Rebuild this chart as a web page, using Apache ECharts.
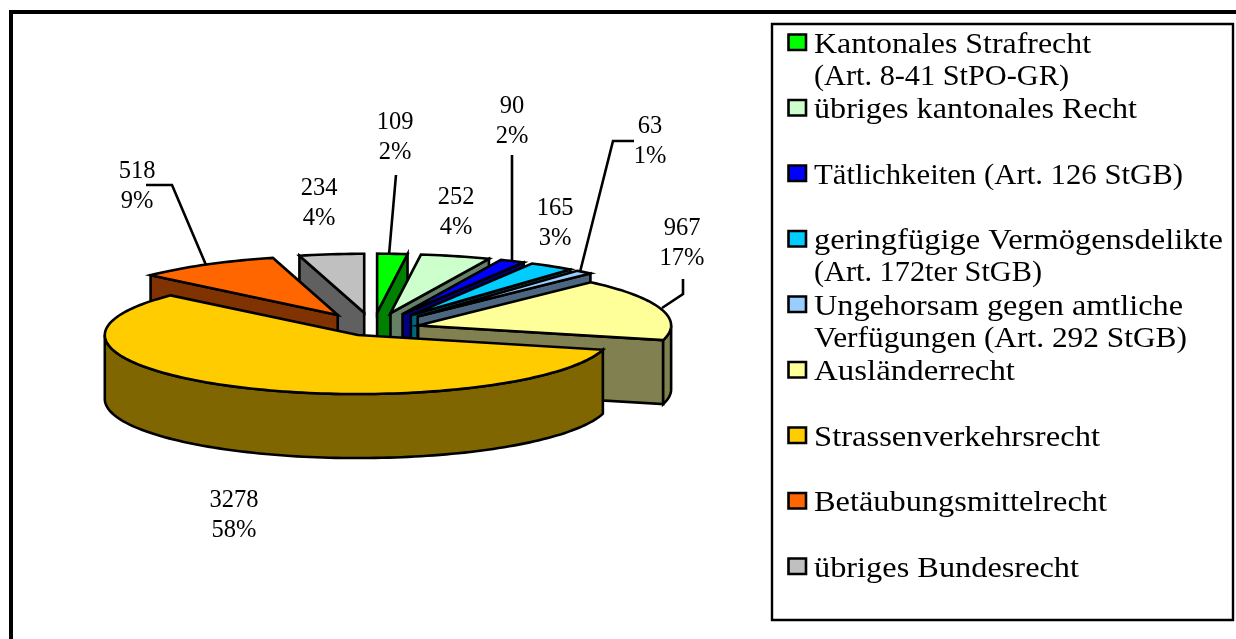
<!DOCTYPE html>
<html lang="de">
<head>
    <meta charset="UTF-8">
    <title>Pie</title>
    <script src="https://cdn.jsdelivr.net/npm/echarts@6/dist/echarts.min.js"></script>
    <style>
        html,body{margin:0;padding:0;background:#fff}
        #chart{width:1236px;height:639px}
    </style>
</head>
<body>
<div id="chart"></div>
<script type="text/javascript">
    // data, clockwise from 12 o'clock
    var categories=['Kantonales Strafrecht','übriges kantonales Recht','Tätlichkeiten','geringfügige Vermögensdelikte','Ungehorsam','Ausländerrecht','Strassenverkehrsrecht','Betäubungsmittelrecht','übriges Bundesrecht'];
    var values=[109,252,90,165,63,967,3278,518,234];
    var legendLines=[
        ['Kantonales Strafrecht','(Art. 8-41 StPO-GR)'],
        ['übriges kantonales Recht'],
        ['Tätlichkeiten (Art. 126 StGB)'],
        ['geringfügige Vermögensdelikte','(Art. 172ter StGB)'],
        ['Ungehorsam gegen amtliche','Verfügungen (Art. 292 StGB)'],
        ['Ausländerrecht'],
        ['Strassenverkehrsrecht'],
        ['Betäubungsmittelrecht'],
        ['übriges Bundesrecht']
    ];
    var topColors=['#00FF00','#CCFFCC','#0000FF','#00CCFF','#99CCFF','#FFFF99','#FFCC00','#FF6600','#C0C0C0'];
    var sideColors=['#008000','#668066','#000080','#006680','#4D6680','#808050','#806600','#803300','#606060'];

    // pie layout
    var pie={cx:373,cy:328.5,rx:253,ry:59,depth:64};
    var explode=[68,68,68,68,68,47,32,68,68];
    var drawOrder=[8,7,0,1,2,3,4,5,6];
    var labelPos=[[395,123],[456,198],[512,107],[555,209],[650,127],[682,229],[234,501],[137,172],[319,189]];
    var leaders=[
        [[396,175],[389,255]],
        null,
        [[512,155],[512,262]],
        null,
        [[634,141],[613,141],[580,272]],
        [[683,279],[683,294],[662,308]],
        null,
        [[146,185],[172,185],[206,265]],
        null
    ];
    // legend line widths in px, the serif here is narrower than the original one
    var legendWidths=[[277,255],[323],[369],[409,228],[369,373],[201],[286],[293],[265]];

    var fontName='"Liberation Serif",serif';
    var legendFont='28.5px '+fontName;
    var total=values.reduce(function(a,b){return a+b},0);
    var startDeg=[];
    values.reduce(function(sum,v,i){startDeg[i]=sum/total*360;return sum+v},0);

    function pt(a,ox,oy,r){
        var t=a*Math.PI/180;
        return [ox+pie.rx*r*Math.sin(t),oy-pie.ry*r*Math.cos(t)];
    }
    function arc(a0,a1,ox,oy){
        var pts=[],n=Math.max(2,Math.ceil((a1-a0)/1.5));
        for(var k=0;k<=n;k++){
            pts.push(pt(a0+(a1-a0)*k/n,ox,oy,1));
        }
        return pts;
    }
    function drop(pts){
        return pts.map(function(p){return [p[0],p[1]+pie.depth]}).reverse();
    }
    function face(pts,fill){
        return {
            type:'polygon',
            shape:{points:pts},
            style:{fill:fill,stroke:'#000',lineWidth:2.6,lineJoin:'miter'}
        };
    }

    function renderSlice(params,api){
        var i=api.value(1);
        var a0=startDeg[i];
        var a1=a0+api.value(0)/total*360;
        var mid=(a0+a1)/2;
        var t=mid*Math.PI/180;
        var ox=pie.cx+explode[i]*Math.sin(t);
        var oy=pie.cy-explode[i]*pie.ry/pie.rx*Math.cos(t);
        var apex=[ox,oy];
        var kids=[];
        // radial walls, only the ones facing the viewer
        if(a0>180){
            var c0=[apex,pt(a0,ox,oy,1)];
            kids.push(face(c0.concat(drop(c0)),sideColors[i]));
        }
        if(a1<180){
            var c1=[apex,pt(a1,ox,oy,1)];
            kids.push(face(c1.concat(drop(c1)),sideColors[i]));
        }
        // outer rim, front half
        var r0=Math.max(a0,90),r1=Math.min(a1,270);
        if(r1>r0){
            var rim=arc(r0,r1,ox,oy);
            kids.push(face(rim.concat(drop(rim)),sideColors[i]));
        }
        kids.push(face([apex].concat(arc(a0,a1,ox,oy)),topColors[i]));
        return {type:'group',children:kids};
    }

    function renderLabel(params,api){
        var i=api.value(1);
        var v=api.value(0);
        var p=labelPos[i];
        var kids=[{
            type:'text',
            style:{
                text:v+'\n'+Math.round(v/total*100)+'%',
                x:p[0],y:p[1]-15,
                align:'center',verticalAlign:'top',
                font:'24.5px '+fontName,
                lineHeight:30,
                fill:'#000'
            }
        }];
        if(leaders[i]){
            kids.push({
                type:'polyline',
                shape:{points:leaders[i]},
                style:{fill:'none',stroke:'#000',lineWidth:2.6}
            });
        }
        return {type:'group',children:kids};
    }

    // frame and legend
    var graphics=[
        {type:'polyline',shape:{points:[[11,639],[11,12],[1236,12]]},style:{fill:'none',stroke:'#000',lineWidth:4}},
        {type:'rect',shape:{x:772,y:24,width:461,height:596},style:{fill:'#fff',stroke:'#000',lineWidth:2.4}}
    ];
    var measure=document.createElement('canvas').getContext('2d');
    measure.font=legendFont;
    legendLines.forEach(function(lines,i){
        var y=34.5+i*65.5;
        graphics.push({
            type:'rect',
            shape:{x:788.5,y:y,width:17.5,height:15.5},
            style:{fill:topColors[i],stroke:'#000',lineWidth:2.6}
        });
        lines.forEach(function(line,j){
            graphics.push({
                type:'text',
                x:814,y:y-3.5+j*32,
                scaleX:legendWidths[i][j]/measure.measureText(line).width,
                style:{text:line,x:0,y:0,align:'left',font:legendFont,fill:'#000'}
            });
        });
    });

    var myChart=echarts.init(document.getElementById('chart'));
    myChart.setOption({
        animation:false,
        backgroundColor:'#fff',
        graphic:graphics,
        series:[
            {
                type:'custom',
                coordinateSystem:'none',
                renderItem:renderSlice,
                silent:true,
                data:drawOrder.map(function(i){return {name:categories[i],value:[values[i],i]}})
            },
            {
                type:'custom',
                coordinateSystem:'none',
                renderItem:renderLabel,
                silent:true,
                z:5,
                data:values.map(function(v,i){return {name:categories[i],value:[v,i]}})
            }
        ]
    });
</script>
</body>
</html>
